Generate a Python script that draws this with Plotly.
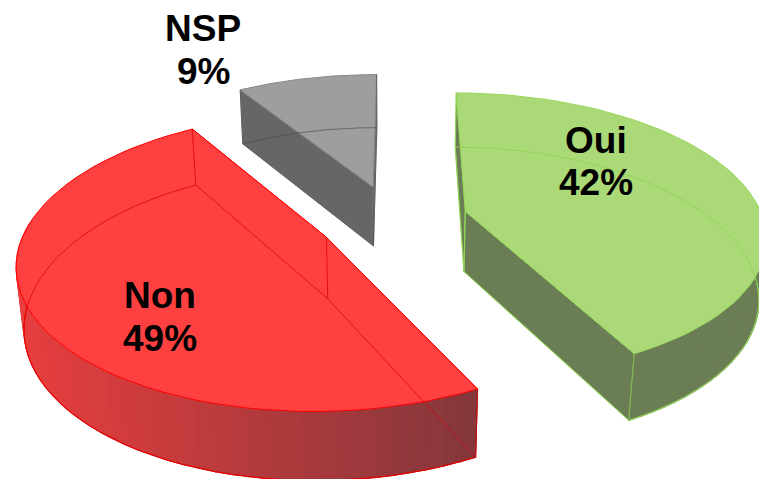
import numpy as np
import plotly.graph_objects as go

# Data
categories = ["Oui", "Non", "NSP"]
values = [42.4, 48.6, 9.0]

# Styles per slice
top_colors = ["rgb(172,217,120)", "rgb(255,64,64)", "rgb(158,158,158)"]
face_colors = ["rgb(107,125,85)", "rgb(200,60,60)", "rgb(102,102,102)"]
edge_colors = ["rgb(150,215,90)", "rgb(255,0,0)", "rgb(135,135,135)"]
hidden_colors = ["rgba(140,210,85,0.8)", "rgba(215,0,0,0.75)", "rgba(70,70,70,0.6)"]
wall_from = [(107, 125, 85), (232, 62, 62), (102, 102, 102)]
wall_to = [(107, 125, 85), (132, 55, 60), (102, 102, 102)]
label_xy = [(596, 140, 182), (160, 295, 338), (203, 28, 71)]

# Camera and solid
CX, CY = 393.0, 219.5
SCALE = 298.0
DIST = 5.5
ELEV = np.radians(28.0)
THICK = 0.235
EXPLODE = 0.252
ROT = np.radians(0.2)
W, H = 759, 479
SHADE_X0, SHADE_X1 = 20.0, 480.0


def project(x, y, z):
    s, c = np.sin(ELEV), np.cos(ELEV)
    depth = (DIST + y * c - z * s) / DIST
    return CX + SCALE * x / depth, CY - SCALE * (y * s + z * c) / depth


def poly(fig, pts, fill, line=None, width=1):
    xs = [p[0] for p in pts] + [pts[0][0]]
    ys = [p[1] for p in pts] + [pts[0][1]]
    fig.add_trace(go.Scatter(
        x=xs, y=ys, mode="lines", fill="toself", fillcolor=fill,
        line=dict(color=line or fill, width=width if line else 1.2),
        hoverinfo="skip", showlegend=False))


def path(fig, pts, color, width=1):
    fig.add_trace(go.Scatter(
        x=[p[0] for p in pts], y=[p[1] for p in pts], mode="lines",
        line=dict(color=color, width=width), hoverinfo="skip", showlegend=False))


fig = go.Figure()
total = sum(values)
start = ROT
for i, v in enumerate(values):
    sweep = 2 * np.pi * v / total
    mid = start + sweep / 2
    ox, oy = EXPLODE * np.sin(mid), EXPLODE * np.cos(mid)
    th = np.linspace(start, start + sweep, 61)
    ax, ay = ox + np.sin(th), oy + np.cos(th)
    top = list(zip(*project(ax, ay, 0 * ax)))
    bot = list(zip(*project(ax, ay, 0 * ax - THICK)))
    a_top = tuple(project(ox, oy, 0.0))
    a_bot = tuple(project(ox, oy, -THICK))

    # radial faces
    poly(fig, [a_top, top[0], bot[0], a_bot], face_colors[i], edge_colors[i])
    poly(fig, [a_top, top[-1], bot[-1], a_bot], face_colors[i], edge_colors[i])

    # outer wall strips, shaded from left to right
    vis = [k for k in range(len(th) - 1) if np.cos(th[k]) < 0.05]
    for k in vis:
        t = min(max((top[k][0] - SHADE_X0) / (SHADE_X1 - SHADE_X0), 0.0), 1.0)
        col = [round(a + (b - a) * t) for a, b in zip(wall_from[i], wall_to[i])]
        poly(fig, [top[k], top[k + 1], bot[k + 1], bot[k]], f"rgb({col[0]},{col[1]},{col[2]})")
    if vis:
        path(fig, [bot[k] for k in vis] + [bot[vis[-1] + 1]], edge_colors[i])

    # top face
    poly(fig, [a_top] + top, top_colors[i], edge_colors[i])

    # edges of the translucent solid showing through
    path(fig, bot, hidden_colors[i])
    path(fig, [top[0], bot[0], a_bot, bot[-1], top[-1]], hidden_colors[i])
    path(fig, [a_top, a_bot], hidden_colors[i])
    start += sweep

for (lx, ly1, ly2), cat, v in zip(label_xy, categories, values):
    for y, txt in ((ly1, cat), (ly2, f"{round(v)}%")):
        fig.add_annotation(x=lx, y=y, xref="x", yref="y", text=f"<b>{txt}</b>", showarrow=False,
                           font=dict(family="Liberation Sans", size=37, color="black"))

fig.update_layout(
    width=W, height=H, margin=dict(l=0, r=0, t=0, b=0), autosize=False,
    paper_bgcolor="white", plot_bgcolor="white", showlegend=False,
    xaxis=dict(range=[0, W], visible=False, fixedrange=True),
    yaxis=dict(range=[H, 0], visible=False, fixedrange=True),
)
fig.write_html("out.html", config={"displayModeBar": False},
               post_script="document.body.style.margin='0';document.body.style.overflow='hidden';")
